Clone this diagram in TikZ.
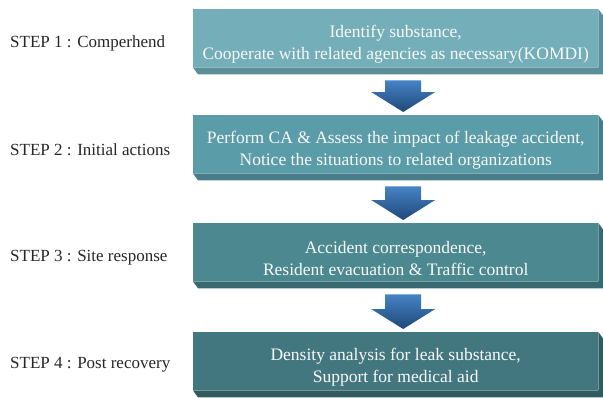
\documentclass[tikz,border=0pt]{standalone}
\usepackage{fontspec}
\setmainfont{Liberation Serif}
\begin{document}
\begin{tikzpicture}[x=1pt,y=-1pt,
  stepbox/.style={minimum width=405pt, minimum height=58pt, inner sep=0pt, anchor=north west},
  boxtext/.style={text=white!95!gray, font=\fontsize{17.5}{22}\selectfont, align=center, inner sep=0pt},
  steplabel/.style={font=\fontsize{17}{20}\selectfont, text=black!85, anchor=west, inner sep=0pt},
  downarrow/.style={top color=arrowtop, bottom color=arrowbot, draw=none}
]
\definecolor{fA}{HTML}{73AEB9}\definecolor{bA}{HTML}{598F99}
\definecolor{fB}{HTML}{5A9CA8}\definecolor{bB}{HTML}{467D88}
\definecolor{fC}{HTML}{4B8890}\definecolor{bC}{HTML}{396970}
\definecolor{fD}{HTML}{43777F}\definecolor{bD}{HTML}{325A61}
\definecolor{arrowtop}{HTML}{4683C6}
\definecolor{arrowbot}{HTML}{1E4877}

\useasboundingbox (0,0) rectangle (603,397);

% front faces of the four step boxes
\node[stepbox, fill=fA] (b1) at (193,9) {};
\node[stepbox, fill=fB] (b2) at (193,115) {};
\node[stepbox, fill=fC] (b3) at (193,223) {};
\node[stepbox, fill=fD] (b4) at (193,332) {};

% darker extruded edge on the right and bottom of each box
\foreach \b/\c in {b1/bA, b2/bB, b3/bC, b4/bD}{
  \fill[\c] (\b.north east) -- ++(5,7) -- ([shift={(5pt,-7pt)}]\b.south east)
    -- ([shift={(5pt,-7pt)}]\b.south west) -- (\b.south west) -- (\b.south east) -- cycle;
}

% box texts
\node[boxtext] (t1) at ([yshift=-6pt]b1.center) {Identify substance,\\Cooperate with related agencies as necessary(KOMDI)};
\node[boxtext] (t2) at ([yshift=-6pt]b2.center) {Perform CA \& Assess the impact of leakage accident,\\Notice the situations to related organizations};
\node[boxtext] (t3) at ([yshift=-6pt]b3.center) {Accident correspondence,\\Resident evacuation \& Traffic control};
\node[boxtext] (t4) at ([yshift=-6pt]b4.center) {Density analysis for leak substance,\\Support for medical aid};

% step labels
\node[steplabel] (s1) at (10,43.5) {STEP 1 : Comperhend};
\node[steplabel] (s2) at (10,149.5) {STEP 2 : Initial actions};
\node[steplabel] (s3) at (10,257.5) {STEP 3 : Site response};
\node[steplabel] (s4) at (10,364.5) {STEP 4 : Post recovery};

% block arrows between consecutive boxes
\foreach \b/\n in {b1/b2, b2/b3, b3/b4}{
  \coordinate (top) at ([shift={(7.5pt,-13pt)}]\b.south);
  \coordinate (tip) at ([shift={(7.5pt,3pt)}]\n.north);
  \path[downarrow] ([xshift=-18pt]top) -- ([xshift=18pt]top)
    -- ([shift={(18pt,20pt)}]tip) -- ([shift={(32pt,20pt)}]tip) -- (tip)
    -- ([shift={(-32pt,20pt)}]tip) -- ([shift={(-18pt,20pt)}]tip) -- cycle;
}
\end{tikzpicture}
\end{document}
